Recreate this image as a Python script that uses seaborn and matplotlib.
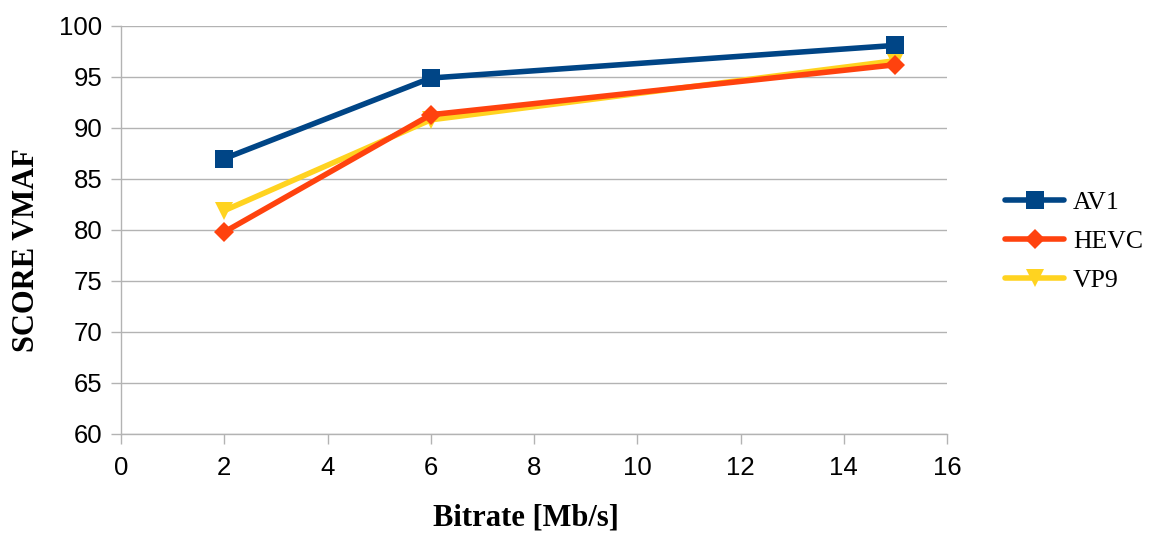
import matplotlib
matplotlib.use("Agg")
import matplotlib.pyplot as plt
import seaborn as sns
import pandas as pd

bitrate = [2, 6, 15]
av1 = [87.0, 94.9, 98.1]
hevc = [79.8, 91.3, 96.2]
vp9 = [81.9, 90.8, 96.6]

series_names = ["AV1", "HEVC", "VP9"]
colors = {"AV1": "#004586", "HEVC": "#ff420e", "VP9": "#ffd320"}
markers = {"AV1": "s", "HEVC": "D", "VP9": "v"}
msizes = {"AV1": 13, "HEVC": 10, "VP9": 13}

df = pd.DataFrame({
    "Bitrate": bitrate * 3,
    "Score": av1 + hevc + vp9,
    "Codec": ["AV1"] * 3 + ["HEVC"] * 3 + ["VP9"] * 3,
})

sns.set_style("white")
plt.rcParams['font.family'] = ['Liberation Sans', 'DejaVu Sans']
plt.rcParams['text.color'] = 'black'
plt.rcParams['axes.labelcolor'] = 'black'

fig = plt.figure(figsize=(11.5, 5.38), dpi=100)
ax = fig.add_axes([121/1150, 1 - 434/538, (947-121)/1150, (434-26)/538])

for name in ["VP9", "HEVC", "AV1"]:
    sub = df[df["Codec"] == name]
    sns.lineplot(data=sub, x="Bitrate", y="Score", ax=ax, color=colors[name],
                 marker=markers[name], markersize=msizes[name], linewidth=4,
                 markeredgewidth=0, label=name, zorder=3)

ax.set_xlim(0, 16)
ax.set_ylim(60, 100)
ax.set_xticks(range(0, 17, 2))
ax.set_yticks(range(60, 101, 5))
ax.yaxis.grid(True, color="#b3b3b3", linewidth=1)
ax.xaxis.grid(False)
for s in ["top", "right"]:
    ax.spines[s].set_visible(False)
for s in ["left", "bottom"]:
    ax.spines[s].set_color("#b3b3b3")
    ax.spines[s].set_linewidth(1)
ax.tick_params(axis="both", which="both", direction="out", length=7.5, width=1,
               color="#b3b3b3", labelsize=18.5, labelcolor="black", bottom=True, left=True)
ax.tick_params(axis="x", pad=8)
ax.tick_params(axis="y", pad=6)

ax.set_xlabel("Bitrate [Mb/s]", fontsize=22, fontweight="bold", family="Liberation Serif",
              color="black")
ax.set_ylabel("SCORE VMAF", fontsize=22, fontweight="bold", family="Liberation Serif",
              color="black")
ax.xaxis.set_label_coords((526 - 121) / 826, (434 - 518) / 408)
ax.xaxis.label.set_verticalalignment("center")
ax.yaxis.set_label_coords((27 - 121) / 826, 1 - (250 - 26) / 408)
ax.yaxis.label.set_verticalalignment("center")

h, l = ax.get_legend_handles_labels()
ax.get_legend().remove()
order = [l.index(n) for n in series_names]
leg = fig.legend([h[i] for i in order], series_names, loc="upper left",
                 bbox_to_anchor=(1005/1150, 1 - 191/538), frameon=False,
                 prop={"family": "Liberation Serif", "size": 18.5}, handlelength=2.3,
                 handletextpad=0.35, labelspacing=0.62, borderaxespad=0, borderpad=0)

fig.savefig("out.png", dpi=100)
